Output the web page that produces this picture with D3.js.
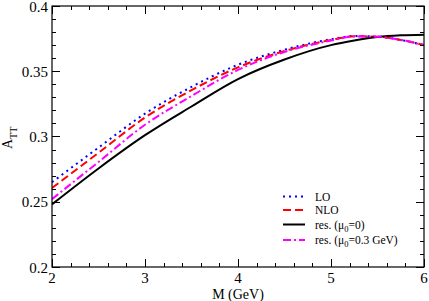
<!DOCTYPE html>
<html>
<head>
<meta charset="utf-8">
<script src="https://cdn.jsdelivr.net/npm/d3@7"></script>
<style>
  body { margin: 0; background: #fff; }
  svg { display: block; font-family: "Liberation Serif", "Times New Roman", serif; }
</style>
</head>
<body>
<svg id="chart"></svg>
<script>
const width = 429
const height = 301
const margin = {top: 6, right: 5, bottom: 34, left: 52}

const mass = [2, 2.5, 3, 3.5, 4, 4.5, 5, 5.25, 5.5, 5.75, 6]
const lo = [0.265, 0.2915, 0.3175, 0.338, 0.355, 0.3665, 0.3745, 0.377, 0.3765, 0.374, 0.370]
const nlo = [0.2605, 0.2875, 0.3145, 0.3355, 0.353, 0.3655, 0.374, 0.3768, 0.3765, 0.374, 0.370]
const res0 = [0.248, 0.2755, 0.301, 0.323, 0.344, 0.359, 0.3700, 0.3735, 0.3762, 0.3775, 0.378]
const res03 = [0.252, 0.2805, 0.309, 0.331, 0.351, 0.3648, 0.3735, 0.3766, 0.3765, 0.374, 0.370]

const xTicks = [2, 3, 4, 5, 6]
const yTicks = [0.2, 0.25, 0.3, 0.35, 0.4]
const yTickLabels = ["0.2", "0.25", "0.3", "0.35", "0.4"]

const series = [
    {name: "LO", values: lo, color: "#0000ff", dash: "2,4"},
    {name: "NLO", values: nlo, color: "#ff0000", dash: "8,4"},
    {name: "res0", values: res0, color: "#000000", dash: null},
    {name: "res03", values: res03, color: "#ff00ff", dash: "8,3,2,3"}
]

const w = width - margin.left - margin.right
const h = height - margin.top - margin.bottom

const xScale = d3.scaleLinear().domain([2, 6]).range([0, w])
const yScale = d3.scaleLinear().domain([0.2, 0.4]).range([h, 0])

const svg = d3.select("#chart")
    .attr("width", width)
    .attr("height", height)

const g = svg.append("g")
    .attr("transform", `translate(${margin.left}, ${margin.top})`)

const line = d3.line()
    .x(d => xScale(d[0]))
    .y(d => yScale(d[1]))
    .curve(d3.curveMonotoneX)

g.append("defs").append("clipPath").attr("id", "clip")
    .append("rect").attr("width", w).attr("height", h)

series.forEach(s => {
    g.append("path")
        .datum(mass.map((m, i) => [m, s.values[i]]))
        .attr("clip-path", "url(#clip)")
        .attr("d", line)
        .attr("fill", "none")
        .attr("stroke", s.color)
        .attr("stroke-width", 2)
        .attr("stroke-dasharray", s.dash)
})

// axes with inward ticks on all four sides
const xMinor = d3.range(2, 6.001, 0.2)
const yMinor = d3.range(0.2, 0.4001, 0.01)

const ticks = g.append("g").attr("stroke", "#000").attr("stroke-width", 1).attr("shape-rendering", "crispEdges")
xMinor.forEach(v => {
    const major = xTicks.some(t => Math.abs(t - v) < 1e-6)
    const len = major ? 8 : 4
    const x = Math.round(xScale(v)) + 0.5
    ticks.append("line").attr("x1", x).attr("x2", x).attr("y1", h).attr("y2", h - len)
    ticks.append("line").attr("x1", x).attr("x2", x).attr("y1", 0).attr("y2", len)
})
yMinor.forEach(v => {
    const major = yTicks.some(t => Math.abs(t - v) < 1e-6)
    const len = major ? 8 : 4
    const y = Math.round(yScale(v)) + 0.5
    ticks.append("line").attr("y1", y).attr("y2", y).attr("x1", 0).attr("x2", len)
    ticks.append("line").attr("y1", y).attr("y2", y).attr("x1", w).attr("x2", w - len)
})

g.append("rect")
    .attr("width", w).attr("height", h)
    .attr("fill", "none").attr("stroke", "#000").attr("stroke-width", 1.2)

g.selectAll(".xlab")
    .data(xTicks)
    .enter()
    .append("text")
        .attr("x", d => xScale(d))
        .attr("y", h + 16)
        .attr("text-anchor", "middle")
        .style("font-size", "15px")
        .text(d => d)

g.selectAll(".ylab")
    .data(yTicks)
    .enter()
    .append("text")
        .attr("x", -4)
        .attr("y", d => yScale(d) + 5.5)
        .attr("text-anchor", "end")
        .style("font-size", "15px")
        .text((d, i) => yTickLabels[i])

g.append("text")
    .attr("x", w / 2)
    .attr("y", h + 32)
    .attr("text-anchor", "middle")
    .style("font-size", "14px")
    .text("M (GeV)")

const yTitle = svg.append("text")
    .attr("transform", "translate(12, 149) rotate(-90)")
    .style("font-size", "14px")
yTitle.append("tspan").text("A")
yTitle.append("tspan").attr("dy", 5).style("font-size", "10px").text("TT")

// legend
const legendLabels = [
    [{t: "LO"}],
    [{t: "NLO"}],
    [{t: "res. (μ"}, {t: "0", sub: true}, {t: "=0)"}],
    [{t: "res. (μ"}, {t: "0", sub: true}, {t: "=0.3 GeV)"}]
]
const legendY = [196.5, 210, 224.5, 240]
series.forEach((s, i) => {
    const y = legendY[i]
    svg.append("line")
        .attr("x1", 283).attr("x2", 305)
        .attr("y1", y).attr("y2", y)
        .attr("stroke", s.color)
        .attr("stroke-width", 2)
        .attr("stroke-dasharray", s.dash)
    const txt = svg.append("text")
        .attr("x", 315)
        .attr("y", y + 4)
        .style("font-size", "11.5px")
    legendLabels[i].forEach(p => {
        if (p.sub) {
            txt.append("tspan").attr("dy", 3).style("font-size", "8.5px").text(p.t)
        } else {
            const ts = txt.append("tspan").text(p.t)
            if (p.t.startsWith("=")) ts.attr("dy", -3)
        }
    })
})
</script>
</body>
</html>
